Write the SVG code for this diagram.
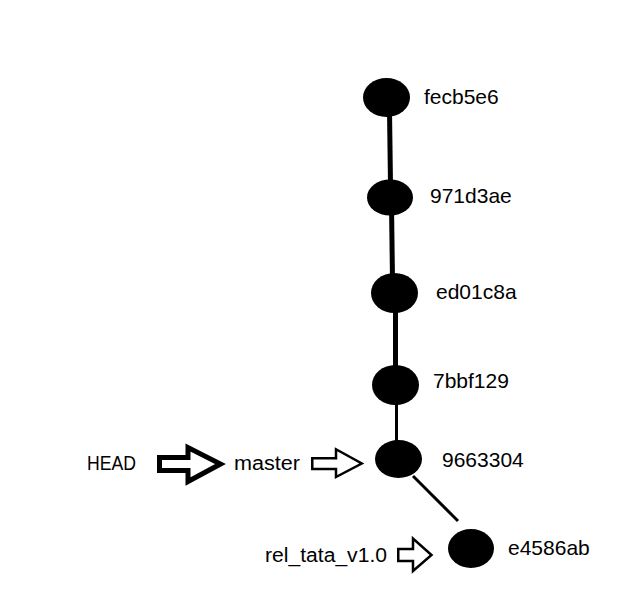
<svg xmlns="http://www.w3.org/2000/svg" width="627" height="602" viewBox="0 0 627 602">
<style>
.commit{fill:#000}
.lbl{font-family:"Liberation Sans",Arial,sans-serif;font-size:21px;fill:#000}
.ref{font-family:"Liberation Sans",Arial,sans-serif;font-size:20px;fill:#000}
.edge{stroke:#000;fill:none}
.ptr{fill:#fff;stroke:#000;stroke-linejoin:miter}
</style>
<rect width="627" height="602" fill="#fff"/>
<g id="connectors">
<line class="edge" x1="389.5" y1="110" x2="390.5" y2="185" stroke-width="5"/>
<line class="edge" x1="391.5" y1="205" x2="392.5" y2="280" stroke-width="5"/>
<line class="edge" x1="395.5" y1="300" x2="395.5" y2="372" stroke-width="5"/>
<line class="edge" x1="396.5" y1="395" x2="396.5" y2="450" stroke-width="3"/>
<line class="edge" x1="413" y1="476" x2="458" y2="521" stroke-width="3"/>
</g>
<g id="node-fecb5e6">
<ellipse class="commit" cx="386.5" cy="97.5" rx="23.5" ry="19.5"/>
<text class="lbl" x="424" y="104">fecb5e6</text>
</g>
<g id="node-971d3ae">
<ellipse class="commit" cx="390" cy="197.5" rx="23" ry="18"/>
<text class="lbl" x="430" y="203">971d3ae</text>
</g>
<g id="node-ed01c8a">
<ellipse class="commit" cx="394.5" cy="293" rx="23.5" ry="20"/>
<text class="lbl" x="436" y="299">ed01c8a</text>
</g>
<g id="node-7bbf129">
<ellipse class="commit" cx="395.5" cy="385" rx="23.5" ry="20"/>
<text class="lbl" x="433" y="388">7bbf129</text>
</g>
<g id="node-9663304">
<ellipse class="commit" cx="398.5" cy="459" rx="23.5" ry="19"/>
<text class="lbl" x="442" y="467">9663304</text>
</g>
<g id="node-e4586ab">
<ellipse class="commit" cx="471" cy="548.5" rx="23" ry="19.5"/>
<text class="lbl" x="508" y="555">e4586ab</text>
</g>
<g id="node-HEAD">
<text class="ref" x="87" y="470" textLength="49" lengthAdjust="spacingAndGlyphs">HEAD</text>
<path class="ptr" stroke-width="5" d="M159.5,457.5 H188 V447.5 L220.5,464 L188,481.5 V470.5 H159.5 Z"/>
</g>
<g id="node-master">
<text class="ref" x="234" y="470" textLength="66" lengthAdjust="spacingAndGlyphs">master</text>
<path class="ptr" stroke-width="2.5" d="M312.25,458.25 H336 V449.25 L361.75,463.5 L336,477 V469 H312.25 Z"/>
</g>
<g id="node-rel_tata_v1.0">
<text class="ref" x="265" y="562" textLength="122" lengthAdjust="spacingAndGlyphs">rel_tata_v1.0</text>
<path class="ptr" stroke-width="2.5" d="M398.25,549 H413 V538.5 L431.5,555 L413,571 V561 H398.25 Z"/>
</g>
</svg>
